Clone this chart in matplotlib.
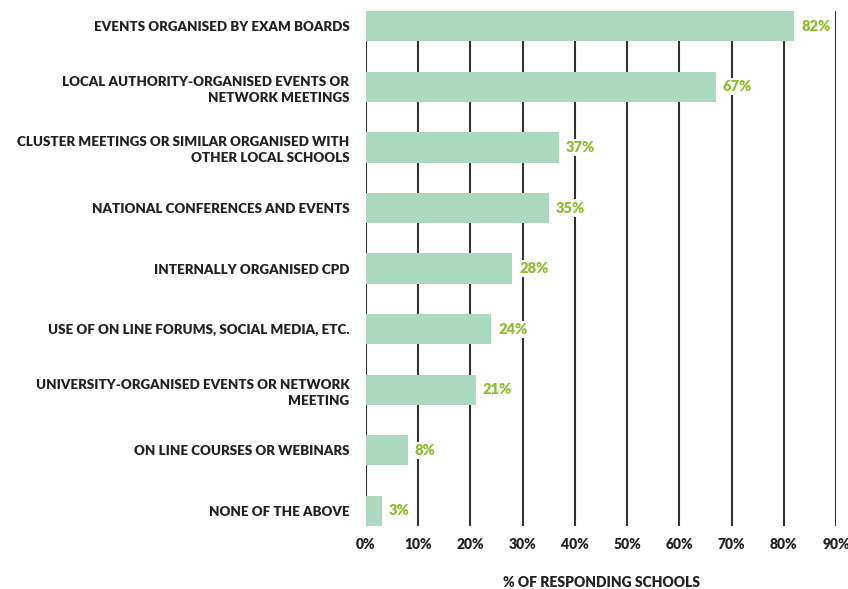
import matplotlib.pyplot as plt

categories = [
    "EVENTS ORGANISED BY EXAM BOARDS",
    "LOCAL AUTHORITY-ORGANISED EVENTS OR\nNETWORK MEETINGS",
    "CLUSTER MEETINGS OR SIMILAR ORGANISED WITH\nOTHER LOCAL SCHOOLS",
    "NATIONAL CONFERENCES AND EVENTS",
    "INTERNALLY ORGANISED CPD",
    "USE OF ON LINE FORUMS, SOCIAL MEDIA, ETC.",
    "UNIVERSITY-ORGANISED EVENTS OR NETWORK\nMEETING",
    "ON LINE COURSES OR WEBINARS",
    "NONE OF THE ABOVE",
]
values = [82, 67, 37, 35, 28, 24, 21, 8, 3]
ticks = [0, 10, 20, 30, 40, 50, 60, 70, 80, 90]

plt.rcParams['font.family'] = ['Lato', 'DejaVu Sans']

fig = plt.figure(figsize=(8.48, 5.89), dpi=100)
ax = fig.add_axes([0.4316, 0.107, 0.5544, 0.874])

y = range(len(values))
ax.barh(y, values, height=0.5, color='#acd8c0', zorder=2)
for i, v in enumerate(values):
    ax.text(v + 1.3, i, f"{v}%", va='center', ha='left', color='#8cbb2c',
            fontsize=10.5, fontweight='heavy', zorder=3,
            bbox=dict(facecolor='white', edgecolor='none', pad=1.5))

ax.set_ylim(len(values) - 0.75, -0.25)
ax.set_xlim(0, 90)
ax.set_xticks(ticks)
ax.set_xticklabels([f"{t}%" for t in ticks], fontsize=10, fontweight='heavy', color='#222222')
ax.set_yticks(list(y))
ax.set_yticklabels(categories, fontsize=9.6, fontweight='heavy', color='#222222',
                   linespacing=1.4)
ax.tick_params(length=0, pad=12, axis='y')
ax.tick_params(length=0, pad=9, axis='x')
ax.grid(axis='x', color='#333333', linewidth=1.5, zorder=0)
ax.set_axisbelow(True)
for s in ax.spines.values():
    s.set_visible(False)
ax.set_xlabel("% OF RESPONDING SCHOOLS", fontsize=10, fontweight='heavy', color='#222222', labelpad=18)

fig.savefig("out.png", dpi=100)
